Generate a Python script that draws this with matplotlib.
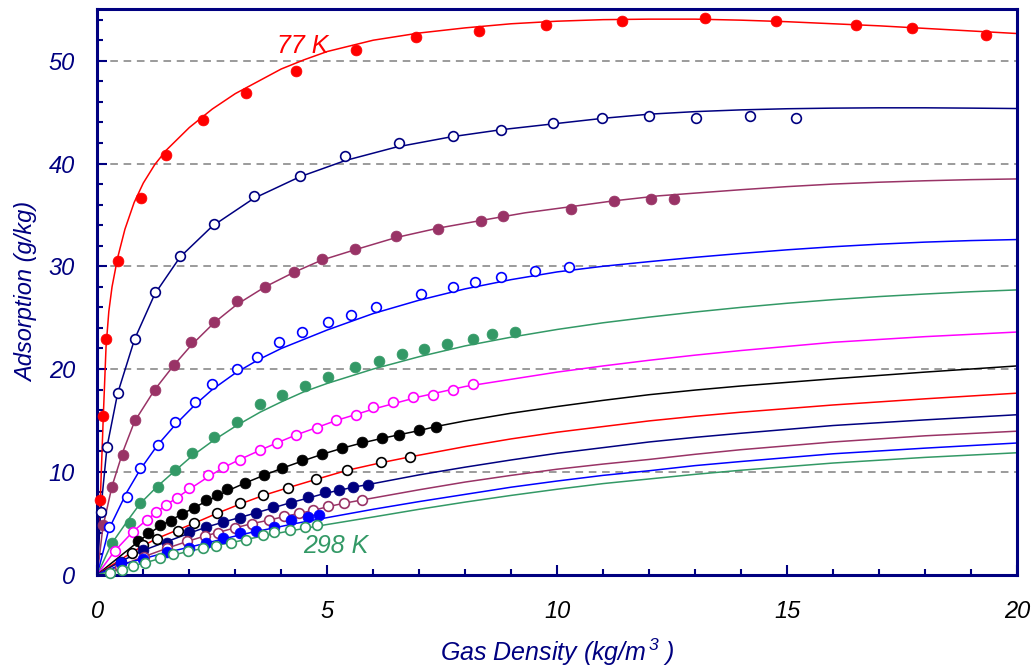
import matplotlib
matplotlib.use("Agg")
import matplotlib.pyplot as plt
from matplotlib.ticker import MultipleLocator

plt.rcParams['font.family'] = ['Liberation Sans', 'DejaVu Sans']
plt.rcParams['mathtext.fontset'] = 'custom'
plt.rcParams['mathtext.rm'] = 'Liberation Sans:italic'
plt.rcParams['mathtext.it'] = 'Liberation Sans:italic'
plt.rcParams['mathtext.default'] = 'it'

NAVY = "#000080"
RED = "#FF0000"
PURPLE = "#993366"
BLUE = "#0000FF"
GREEN = "#339966"
MAGENTA = "#FF00FF"
BLACK = "#000000"

# ---- measured points ----
s1_x = [0.065, 0.13, 0.19, 0.44, 0.94, 1.49, 2.29, 3.23, 4.33, 5.63, 6.93, 8.30, 9.76, 11.42, 13.22, 14.76, 16.49, 17.71, 19.32]
s1_y = [7.3, 15.4, 22.9, 30.5, 36.6, 40.8, 44.2, 46.9, 49.05, 51.0, 52.3, 52.9, 53.5, 53.9, 54.2, 53.9, 53.5, 53.2, 52.5]
s2_x = [0.07, 0.21, 0.44, 0.81, 1.25, 1.80, 2.54, 3.41, 4.40, 5.38, 6.56, 7.73, 8.78, 9.91, 10.97, 11.99, 13.03, 14.20, 15.19]
s2_y = [6.05, 12.4, 17.7, 22.9, 27.5, 31.0, 34.1, 36.85, 38.8, 40.75, 41.95, 42.7, 43.3, 43.9, 44.4, 44.65, 44.4, 44.65, 44.4]
s3_x = [0.12, 0.32, 0.56, 0.81, 1.25, 1.67, 2.04, 2.54, 3.04, 3.65, 4.27, 4.88, 5.60, 6.49, 7.41, 8.35, 8.83, 10.31, 11.23, 12.04, 12.54]
s3_y = [4.8, 8.5, 11.6, 15.05, 17.95, 20.4, 22.6, 24.6, 26.6, 28.0, 29.45, 30.75, 31.7, 32.9, 33.6, 34.4, 34.85, 35.6, 36.4, 36.5, 36.55]
s4_x = [0.25, 0.64, 0.93, 1.31, 1.70, 2.12, 2.49, 3.04, 3.47, 3.96, 4.46, 5.01, 5.52, 6.06, 7.04, 7.73, 8.22, 8.78, 9.52, 10.25]
s4_y = [4.6, 7.5, 10.4, 12.6, 14.8, 16.75, 18.5, 20.0, 21.2, 22.6, 23.6, 24.6, 25.3, 26.05, 27.3, 28.0, 28.5, 29.0, 29.5, 29.95]
s5_x = [0.31, 0.70, 0.93, 1.31, 1.69, 2.05, 2.54, 3.03, 3.54, 4.02, 4.51, 5.02, 5.60, 6.12, 6.62, 7.11, 7.60, 8.16, 8.59, 9.09]
s5_y = [3.1, 5.05, 7.0, 8.5, 10.2, 11.85, 13.4, 14.8, 16.55, 17.5, 18.3, 19.25, 20.15, 20.8, 21.45, 21.9, 22.4, 22.9, 23.4, 23.65]
s6_x = [0.38, 0.78, 1.07, 1.28, 1.49, 1.74, 2.00, 2.41, 2.74, 3.10, 3.54, 3.90, 4.33, 4.77, 5.20, 5.63, 6.00, 6.42, 6.86, 7.29, 7.73, 8.16]
s6_y = [2.3, 4.15, 5.3, 6.1, 6.8, 7.4, 8.4, 9.7, 10.45, 11.15, 12.1, 12.8, 13.6, 14.3, 15.05, 15.55, 16.3, 16.8, 17.25, 17.5, 18.0, 18.5]
s7_x = [0.89, 1.11, 1.36, 1.60, 1.85, 2.10, 2.36, 2.60, 2.81, 3.21, 3.62, 4.02, 4.46, 4.89, 5.33, 5.75, 6.19, 6.56, 6.99, 7.36]
s7_y = [3.3, 4.05, 4.8, 5.2, 5.85, 6.5, 7.3, 7.75, 8.3, 8.95, 9.65, 10.4, 11.15, 11.7, 12.35, 12.85, 13.25, 13.6, 14.05, 14.4]
s8_x = [0.75, 1.00, 1.29, 1.75, 2.11, 2.60, 3.10, 3.61, 4.15, 4.75, 5.44, 6.17, 6.80]
s8_y = [2.1, 2.85, 3.5, 4.25, 5.0, 6.0, 6.95, 7.75, 8.45, 9.25, 10.2, 10.95, 11.4]
s9_x = [0.52, 1.00, 1.51, 1.99, 2.36, 2.74, 3.10, 3.45, 3.83, 4.21, 4.59, 4.95, 5.26, 5.57, 5.88]
s9_y = [1.25, 2.4, 3.1, 4.1, 4.65, 5.1, 5.5, 6.0, 6.55, 7.0, 7.5, 8.0, 8.25, 8.5, 8.75]
s10_x = [0.49, 1.02, 1.51, 1.94, 2.34, 2.63, 3.00, 3.36, 3.73, 4.07, 4.39, 4.69, 5.01, 5.37, 5.75]
s10_y = [0.75, 1.75, 2.55, 3.25, 3.75, 4.0, 4.5, 4.95, 5.3, 5.65, 6.0, 6.25, 6.7, 6.95, 7.25]
s11_x = [0.52, 1.00, 1.51, 1.99, 2.36, 2.73, 3.10, 3.46, 3.85, 4.22, 4.59, 4.83]
s11_y = [1.15, 1.5, 2.15, 2.55, 3.05, 3.6, 4.0, 4.2, 4.6, 5.3, 5.55, 5.75]
s12_x = [0.28, 0.53, 0.77, 1.04, 1.36, 1.65, 1.98, 2.30, 2.58, 2.91, 3.23, 3.60, 3.84, 4.20, 4.52, 4.77]
s12_y = [0.1, 0.45, 0.85, 1.15, 1.6, 1.95, 2.3, 2.55, 2.8, 3.1, 3.35, 3.85, 4.1, 4.35, 4.6, 4.8]

# ---- fitted curves ----
c1_x = [0, 0.065, 0.13, 0.19, 0.25, 0.32, 0.44, 0.6, 0.8, 1.0, 1.25, 1.5, 2.0, 2.5, 3.0, 3.5, 4.0, 4.5, 5.0, 6, 7, 8, 9, 10, 11, 12, 13, 14, 15, 16, 17, 18, 19, 20]
c1_y = [0, 7.3, 15.4, 22.2, 25.6, 28.0, 30.8, 33.6, 36.2, 38.1, 39.9, 41.3, 43.5, 45.3, 46.8, 48.0, 49.2, 50.1, 50.9, 52.0, 52.7, 53.2, 53.6, 53.85, 54.0, 54.05, 54.05, 53.95, 53.8, 53.6, 53.4, 53.15, 52.9, 52.65]
c2_x = [0, 0.07, 0.21, 0.44, 0.81, 1.25, 1.8, 2.5, 3.4, 4.4, 5.4, 6.5, 7.7, 8.8, 10, 11, 12, 13, 14, 15, 16, 17, 18, 19, 20]
c2_y = [0, 6.0, 12.4, 17.6, 22.9, 27.3, 30.9, 33.9, 36.6, 38.7, 40.3, 41.6, 42.6, 43.3, 43.9, 44.4, 44.8, 45.05, 45.22, 45.33, 45.39, 45.42, 45.42, 45.39, 45.35]
c3_x = [0, 0.12, 0.32, 0.56, 0.81, 1.25, 1.67, 2.04, 2.54, 3.04, 3.65, 4.27, 4.88, 5.6, 6.5, 7.4, 8.4, 9.3, 10.3, 11.2, 12.2, 13, 14, 15, 16, 17, 18, 19, 20]
c3_y = [0, 4.6, 8.6, 12.0, 14.9, 18.0, 20.4, 22.3, 24.5, 26.3, 28.0, 29.4, 30.6, 31.6, 32.8, 33.7, 34.5, 35.2, 35.8, 36.35, 36.85, 37.12, 37.45, 37.75, 38.0, 38.18, 38.32, 38.43, 38.5]
c4_x = [0, 0.25, 0.64, 0.93, 1.31, 1.7, 2.12, 2.5, 3.0, 3.5, 4.0, 4.5, 5.0, 5.5, 6.0, 7, 8, 9, 10, 11, 12, 13, 14, 15, 16, 17, 18, 19, 20]
c4_y = [0, 4.4, 8.0, 10.2, 12.6, 14.6, 16.5, 18.0, 19.6, 20.9, 22.0, 22.9, 23.8, 24.6, 25.4, 26.7, 27.8, 28.7, 29.45, 30.0, 30.45, 30.87, 31.25, 31.6, 31.9, 32.15, 32.35, 32.5, 32.6]
c5_x = [0, 0.31, 0.7, 0.93, 1.31, 1.69, 2.05, 2.54, 3.03, 3.54, 4.0, 4.5, 5.0, 5.5, 6, 7, 8, 9, 10, 11, 12, 13, 14, 15, 16, 17, 18, 19, 20]
c5_y = [0, 3.0, 5.5, 6.9, 8.6, 10.1, 11.5, 13.1, 14.5, 15.8, 16.8, 17.8, 18.6, 19.3, 20.0, 21.2, 22.25, 23.1, 23.85, 24.5, 25.05, 25.55, 26.0, 26.4, 26.75, 27.05, 27.3, 27.52, 27.7]
c6_x = [0, 0.38, 0.78, 1.07, 1.28, 1.49, 1.74, 2.0, 2.41, 2.74, 3.1, 3.54, 3.9, 4.33, 4.77, 5.2, 5.64, 6.0, 6.5, 7, 7.5, 8, 9, 10, 11, 12, 13, 14, 16, 18, 20]
c6_y = [0, 2.3, 4.2, 5.3, 6.05, 6.75, 7.5, 8.3, 9.5, 10.4, 11.2, 12.1, 12.8, 13.6, 14.3, 15.0, 15.6, 16.1, 16.7, 17.3, 17.8, 18.3, 19.0, 19.7, 20.3, 20.85, 21.35, 21.8, 22.6, 23.15, 23.6]
c7_x = [0, 0.89, 1.11, 1.36, 1.6, 1.85, 2.1, 2.36, 2.6, 2.81, 3.21, 3.62, 4.02, 4.46, 4.89, 5.33, 5.75, 6.19, 6.56, 6.99, 7.36, 8, 9, 10, 11, 12, 13, 14, 16, 18, 20]
c7_y = [0, 3.2, 3.95, 4.7, 5.3, 5.9, 6.5, 7.1, 7.6, 8.1, 8.9, 9.65, 10.35, 11.05, 11.7, 12.3, 12.8, 13.25, 13.6, 14.0, 14.4, 14.95, 15.7, 16.35, 16.95, 17.5, 17.95, 18.35, 19.05, 19.7, 20.3]
c8_x = [0, 0.75, 1.0, 1.29, 1.75, 2.11, 2.6, 3.1, 3.61, 4.15, 4.75, 5.44, 6.19, 6.8, 8, 9, 10, 11, 12, 13, 14, 16, 18, 20]
c8_y = [0, 2.15, 2.8, 3.5, 4.35, 5.0, 5.95, 6.85, 7.7, 8.45, 9.25, 10.15, 10.9, 11.45, 12.45, 13.2, 13.85, 14.4, 14.95, 15.4, 15.8, 16.5, 17.1, 17.65]
c9_x = [0, 0.52, 1.0, 1.51, 1.99, 2.36, 2.74, 3.1, 3.45, 3.83, 4.21, 4.59, 4.95, 5.26, 5.57, 5.88, 7, 8, 9, 10, 11, 12, 13, 14, 16, 18, 20]
c9_y = [0, 1.3, 2.35, 3.2, 4.0, 4.6, 5.1, 5.55, 6.0, 6.5, 7.0, 7.45, 7.9, 8.2, 8.5, 8.75, 9.7, 10.45, 11.15, 11.8, 12.35, 12.9, 13.35, 13.75, 14.5, 15.05, 15.55]
c10_x = [0, 0.49, 1.02, 1.51, 1.94, 2.34, 2.63, 3.0, 3.36, 3.74, 4.07, 4.39, 4.7, 5.01, 5.38, 5.75, 7, 8, 9, 10, 11, 12, 13, 14, 16, 18, 20]
c10_y = [0, 0.85, 1.75, 2.55, 3.2, 3.75, 4.1, 4.55, 4.95, 5.3, 5.65, 5.95, 6.25, 6.6, 6.95, 7.25, 8.25, 9.0, 9.65, 10.25, 10.75, 11.2, 11.7, 12.15, 12.9, 13.5, 13.95]
c11_x = [0, 0.52, 1.0, 1.51, 1.99, 2.36, 2.73, 3.1, 3.46, 3.86, 4.23, 4.59, 4.83, 6, 7, 8, 9, 10, 11, 12, 13, 14, 16, 18, 20]
c11_y = [0, 0.95, 1.55, 2.15, 2.65, 3.05, 3.45, 3.85, 4.2, 4.55, 4.9, 5.2, 5.4, 6.35, 7.1, 7.8, 8.5, 9.1, 9.65, 10.1, 10.6, 11.0, 11.75, 12.3, 12.8]
c12_x = [0, 0.53, 1.04, 1.36, 1.65, 1.98, 2.3, 2.58, 2.91, 3.23, 3.6, 3.84, 4.2, 4.52, 4.77, 6, 7, 8, 9, 10, 11, 12, 13, 14, 16, 18, 20]
c12_y = [0, 0.55, 1.15, 1.55, 1.9, 2.25, 2.55, 2.85, 3.1, 3.4, 3.75, 3.95, 4.25, 4.5, 4.7, 5.6, 6.35, 7.05, 7.7, 8.3, 8.85, 9.3, 9.75, 10.15, 10.85, 11.4, 11.85]

x_ticks = [0, 5, 10, 15, 20]
y_ticks = [0, 10, 20, 30, 40, 50]
grid_levels = [10, 20, 30, 40, 50]

series = [
    (s1_x, s1_y, c1_x, c1_y, RED, RED, True),
    (s2_x, s2_y, c2_x, c2_y, NAVY, NAVY, False),
    (s3_x, s3_y, c3_x, c3_y, PURPLE, PURPLE, True),
    (s4_x, s4_y, c4_x, c4_y, BLUE, BLUE, False),
    (s5_x, s5_y, c5_x, c5_y, GREEN, GREEN, True),
    (s6_x, s6_y, c6_x, c6_y, MAGENTA, MAGENTA, False),
    (s7_x, s7_y, c7_x, c7_y, BLACK, BLACK, True),
    (s8_x, s8_y, c8_x, c8_y, BLACK, RED, False),
    (s9_x, s9_y, c9_x, c9_y, NAVY, NAVY, True),
    (s10_x, s10_y, c10_x, c10_y, PURPLE, PURPLE, False),
    (s11_x, s11_y, c11_x, c11_y, BLUE, BLUE, True),
    (s12_x, s12_y, c12_x, c12_y, GREEN, GREEN, False),
]

fig = plt.figure(figsize=(10.31, 6.70), dpi=100)
ax = fig.add_axes([0.0944, 0.1425, 0.892, 0.8435])

for lv in grid_levels:
    ax.axhline(lv, color="#808080", lw=1.1, ls=(0, (5, 3.7)), zorder=1)

for sx, sy, cx, cy, mcol, lcol, filled in series:
    ax.plot(cx, cy, color=lcol, lw=1.1, zorder=2)
for sx, sy, cx, cy, mcol, lcol, filled in series:
    if filled:
        ax.plot(sx, sy, ls="none", marker="o", ms=7.8, mfc=mcol, mec=mcol, mew=0.5,
                zorder=3, clip_on=False)
    else:
        ax.plot(sx, sy, ls="none", marker="o", ms=7.0, mfc="white", mec=mcol, mew=1.2,
                zorder=3, clip_on=False)

ax.set_xlim(0, 20)
ax.set_ylim(0, 55)
ax.set_xticks(x_ticks)
ax.set_yticks(y_ticks)
ax.xaxis.set_minor_locator(MultipleLocator(1))
ax.yaxis.set_minor_locator(MultipleLocator(2))
ax.tick_params(axis="both", which="major", direction="in", length=7, width=1.5, color=NAVY)
ax.tick_params(axis="both", which="minor", direction="in", length=4.5, width=1.5, color=NAVY)
ax.tick_params(axis="x", which="major", pad=18, labelsize=17, labelcolor=BLACK)
ax.tick_params(axis="y", which="major", pad=16, labelsize=17, labelcolor=NAVY)
for lab in ax.get_xticklabels() + ax.get_yticklabels():
    lab.set_fontstyle("italic")
ax.tick_params(top=False, right=False, which="both")

for s in ax.spines.values():
    s.set_color(NAVY)
    s.set_linewidth(2.2)

ax.set_xlabel(r"Gas Density (kg/m$^{\,3}$ )", fontsize=18, fontstyle="italic", color=NAVY, labelpad=10)
ax.set_ylabel("Adsorption (g/kg)", fontsize=17, fontstyle="italic", color=NAVY, labelpad=8)

ax.text(3.9, 50.75, "77 K", color=RED, fontsize=18, fontstyle="italic", ha="left", va="baseline")
ax.text(4.47, 2.1, "298 K", color=GREEN, fontsize=18, fontstyle="italic", ha="left", va="baseline")

fig.savefig("out.png", dpi=100, facecolor="white")
